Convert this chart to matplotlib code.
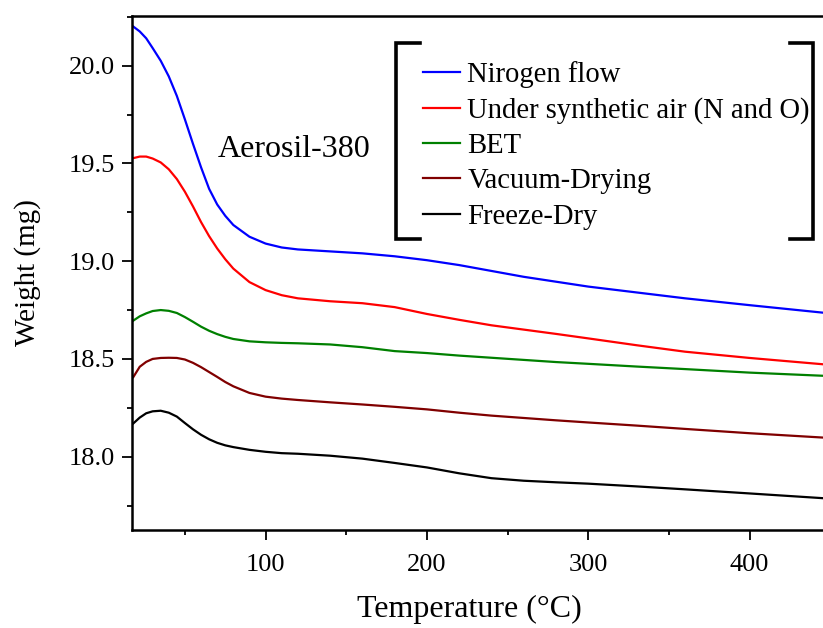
import matplotlib
matplotlib.use("Agg")
import matplotlib.pyplot as plt
from matplotlib.lines import Line2D
from matplotlib.ticker import MultipleLocator, FormatStrFormatter

plt.rcParams['font.family'] = ['Liberation Serif', 'DejaVu Serif']

# TGA curves, weight (mg) vs temperature (°C)
temperature = [18, 22, 26, 30, 35, 40, 45, 50, 55, 60, 65, 70, 75, 80, 90, 100,
               110, 120, 140, 160, 180, 200, 220, 240, 260, 280, 300, 330, 360,
               400, 445]

nitrogen_flow = [20.200, 20.175, 20.140, 20.090, 20.025, 19.945, 19.845, 19.725,
                 19.600, 19.480, 19.370, 19.290, 19.232, 19.185, 19.125, 19.090,
                 19.070, 19.060, 19.050, 19.040, 19.025, 19.005, 18.980, 18.950,
                 18.920, 18.895, 18.870, 18.840, 18.810, 18.775, 18.737]

synthetic_air = [19.527, 19.535, 19.535, 19.525, 19.505, 19.470, 19.420, 19.355,
                 19.280, 19.200, 19.128, 19.065, 19.010, 18.962, 18.893, 18.852,
                 18.826, 18.810, 18.795, 18.785, 18.765, 18.730, 18.700, 18.672,
                 18.650, 18.628, 18.605, 18.570, 18.537, 18.505, 18.473]

bet = [18.696, 18.718, 18.733, 18.745, 18.750, 18.746, 18.735, 18.714,
       18.690, 18.665, 18.644, 18.627, 18.613, 18.602, 18.590, 18.585,
       18.582, 18.580, 18.574, 18.560, 18.540, 18.530, 18.517, 18.506,
       18.495, 18.484, 18.475, 18.461, 18.448, 18.430, 18.414]

vacuum_drying = [18.407, 18.460, 18.485, 18.500, 18.505, 18.506, 18.505, 18.497,
                 18.480, 18.458, 18.433, 18.408, 18.382, 18.360, 18.326, 18.307,
                 18.297, 18.290, 18.278, 18.267, 18.255, 18.242, 18.225, 18.210,
                 18.198, 18.186, 18.175, 18.159, 18.142, 18.120, 18.098]

freeze_dry = [18.170, 18.200, 18.222, 18.232, 18.235, 18.225, 18.205, 18.172,
              18.140, 18.112, 18.089, 18.071, 18.058, 18.049, 18.035, 18.025,
              18.018, 18.015, 18.005, 17.990, 17.968, 17.945, 17.915, 17.890,
              17.877, 17.869, 17.862, 17.848, 17.833, 17.812, 17.788]

labels = ['Nirogen flow', 'Under synthetic air (N and O)', 'BET',
          'Vacuum-Drying', 'Freeze-Dry']
colors = ['#0000ff', '#ff0000', '#008000', '#800000', '#000000']

fig = plt.figure(figsize=(8.23, 6.28), dpi=100)
ax = fig.add_axes([132 / 823, 1 - 530 / 628, 1 - 132 / 823, (530 - 16) / 628])

series = [nitrogen_flow, synthetic_air, bet, vacuum_drying, freeze_dry]
for values, label, color in zip(series, labels, colors):
    ax.plot(temperature, values, color=color, lw=1.6, label=label)

ax.set_xlim(17.2, 445.5)
ax.set_ylim(17.625, 20.254)
ax.xaxis.set_major_locator(MultipleLocator(100))
ax.xaxis.set_minor_locator(MultipleLocator(50))
ax.yaxis.set_major_locator(MultipleLocator(0.5))
ax.yaxis.set_minor_locator(MultipleLocator(0.25))
ax.yaxis.set_major_formatter(FormatStrFormatter('%.1f'))

for side in ['left', 'bottom', 'top']:
    ax.spines[side].set_linewidth(1.8)
ax.spines['right'].set_visible(False)
ax.tick_params(which='major', direction='out', length=7, width=1.3,
               labelsize=19, top=False, right=False)
ax.tick_params(which='minor', direction='out', length=3.6, width=1.3,
               top=False, right=False)
ax.tick_params(axis='x', which='major', pad=10)
ax.tick_params(axis='y', which='major', pad=5)

ax.set_xlabel('Temperature (°C)', fontsize=23, labelpad=14)
ax.xaxis.label.set_x(0.488)
ax.set_ylabel('Weight (mg)', fontsize=21, labelpad=20)

ax.text(218 / 823, 1 - 157 / 628, 'Aerosil-380', fontsize=23,
        transform=fig.transFigure, ha='left', va='baseline')

leg = ax.legend(loc='upper left', bbox_to_anchor=(423 / 823, 1 - 61 / 628),
                bbox_transform=fig.transFigure, frameon=False, fontsize=20.6,
                handlelength=1.3, handletextpad=0.25, labelspacing=0.32,
                borderpad=0, borderaxespad=0)

# square brackets around the legend
bracket_kw = dict(color='black', lw=2.6, solid_joinstyle='miter',
                  transform=fig.transFigure)
top_y, bot_y = 1 - 43 / 628, 1 - 239 / 628
fig.add_artist(Line2D([420 / 823, 396 / 823, 396 / 823, 420 / 823],
                      [top_y, top_y, bot_y, bot_y], **bracket_kw))
fig.add_artist(Line2D([790 / 823, 813 / 823, 813 / 823, 790 / 823],
                      [top_y, top_y, bot_y, bot_y], **bracket_kw))

fig.savefig('out.png', dpi=100)
